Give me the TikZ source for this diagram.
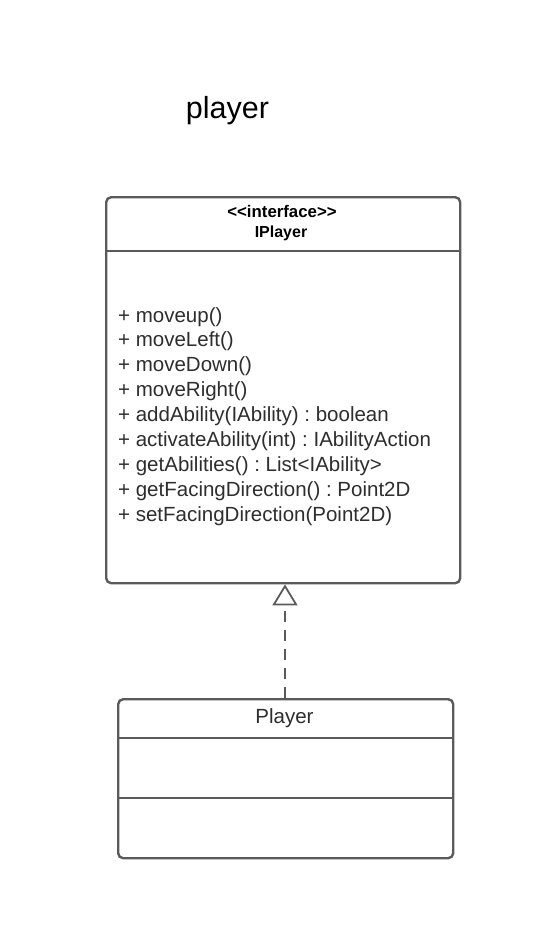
\documentclass[tikz,border=0pt]{standalone}
\usepackage{fontspec}
\setmainfont{Liberation Sans}
\usetikzlibrary{arrows.meta}
\definecolor{umlgray}{HTML}{5A5A5A}
\definecolor{umltext}{HTML}{2E2E2E}
\frenchspacing
\begin{document}
\begin{tikzpicture}[x=1pt, y=-1pt,
	umlbox/.style={draw=umlgray, line width=2.4pt, rounded corners=5pt, fill=white, inner sep=0pt, anchor=north west},
	divider/.style={draw=umlgray, line width=2.4pt},
	method/.style={anchor=base west, inner sep=0pt, text=umltext, font=\fontsize{20.5}{24}\selectfont},
	realizes/.style={draw=umlgray, line width=1.8pt, dash pattern=on 11pt off 8pt,
		-{Triangle[open, length=21pt, width=25pt, line width=1.8pt]}}]
\useasboundingbox (0,0) rectangle (549,929);

%title
	\node[anchor=base, inner sep=0pt, font=\fontsize{30.5}{34}\selectfont] (title) at (227.5,118) {player};

%boxes
	\node[umlbox, minimum width=354pt, minimum height=386pt] (iplayer) at (105,196) {};
	\node[umlbox, minimum width=335pt, minimum height=159pt] (player) at (117,698) {};

	\draw[divider] (iplayer.west |- 0,251) -- (iplayer.east |- 0,251);
	\draw[divider] (player.west |- 0,738) -- (player.east |- 0,738);
	\draw[divider] (player.west |- 0,798) -- (player.east |- 0,798);

%headers
	\node[anchor=base, inner sep=0pt, text=black, font=\fontsize{16.8}{18}\selectfont\bfseries] (stereo) at (282,217) {{<}{<}interface{>}{>}};
	\node[anchor=base, inner sep=0pt, text=black, font=\fontsize{16}{18}\selectfont\bfseries] (iname) at (281,237) {IPlayer};
	\node[anchor=base, inner sep=0pt, text=umltext, font=\fontsize{20.5}{24}\selectfont] (pname) at (284.5,723) {Player};

%methods
	\foreach \m [count=\i] in {{+ moveup()}, {+ moveLeft()}, {+ moveDown()}, {+ moveRight()},
		{+ addAbility(IAbility) : boolean}, {+ activateAbility(int) : IAbilityAction},
		{+ getAbilities() : List<IAbility>}, {+ getFacingDirection() : Point2D},
		{+ setFacingDirection(Point2D)}}{
		\node[method] (m\i) at (118, 297.1+\i*24.9) {\m};
	}

%realization
	\draw[realizes] (player.north -| 285,0) -- (iplayer.south -| 285,0);

\end{tikzpicture}
\end{document}
